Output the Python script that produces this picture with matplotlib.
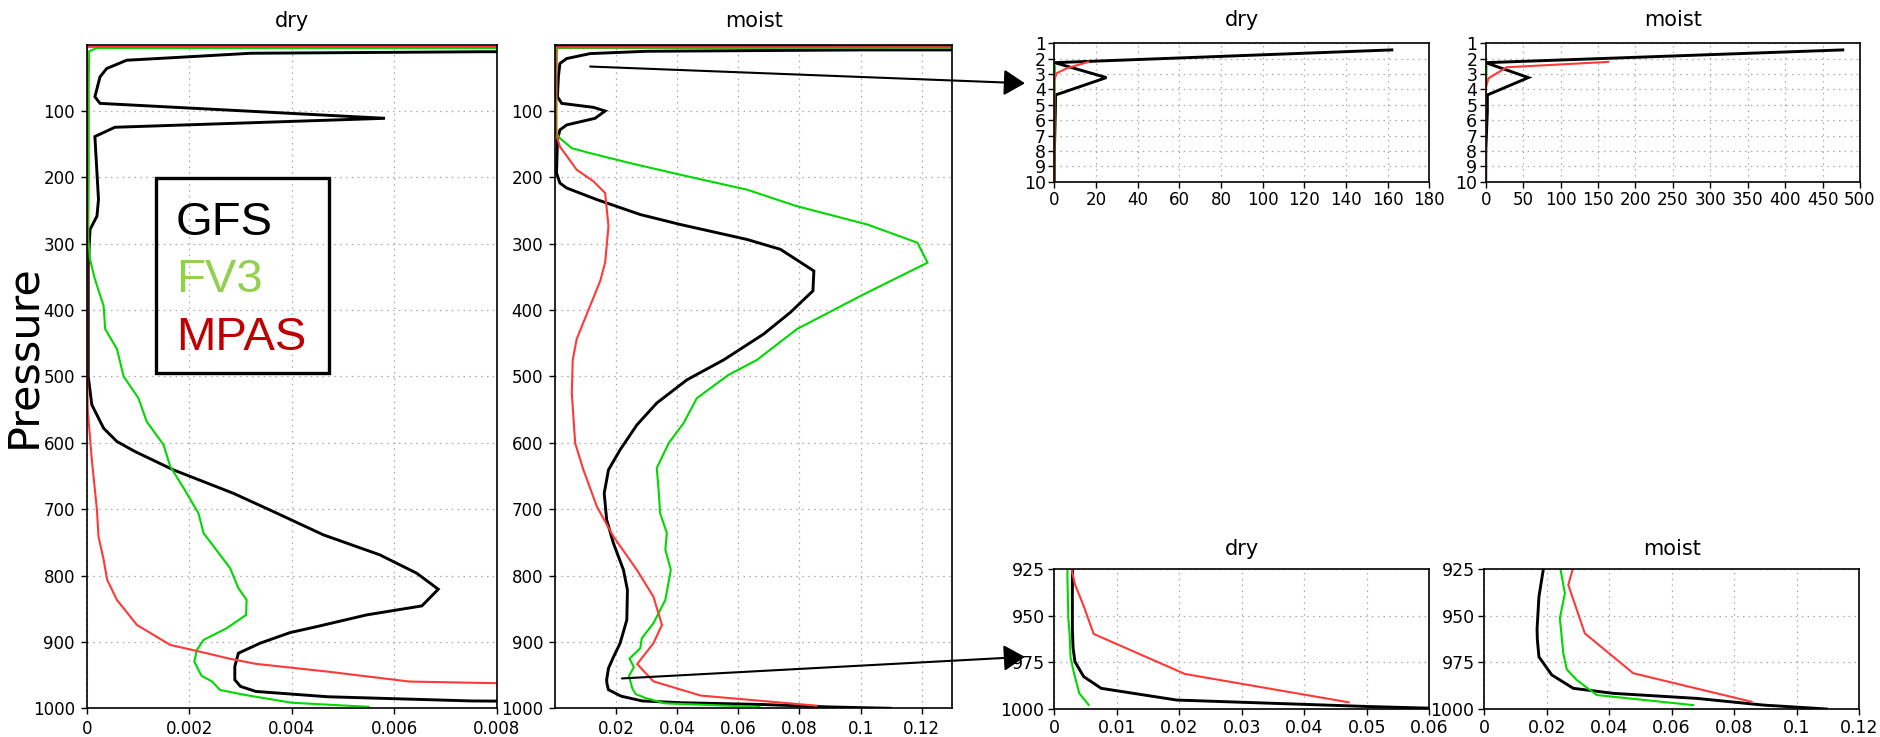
import matplotlib
matplotlib.use("Agg")
import matplotlib.pyplot as plt
from matplotlib.patches import ConnectionPatch, Rectangle

# ---------------- data (pressure in hPa, values) ----------------
gfs_dry_p = [1.43, 2.26, 3.23, 4.36, 5.45, 8, 10.7, 13, 18.7, 23.5, 36, 48.5, 78.5, 88.5, 111, 124.5,
             138.5, 233.5, 258.5, 278.5, 333, 500, 542.7, 578, 598, 613, 640.7, 676, 703.5, 738.7,
             768.8, 796.5, 820.6, 845.7, 859.3, 876.9, 885.9, 902, 917, 937, 957, 967, 974.6, 982.6,
             988.9, 995.2, 998.7, 1000]
gfs_dry_v = [162, 0.2, 25, 0.6, 0.5, 0.05, 0.0077, 0.0032, 0.0019, 0.00078, 0.00039, 0.00026, 0.00016,
             0.00026, 0.00582, 0.00055, 0.00016, 0.00023, 0.0002, 0.000065, 0.00003, 0.00003, 0.0001,
             0.00033, 0.00059, 0.00094, 0.00169, 0.00286, 0.00364, 0.00462, 0.00572, 0.00644, 0.00686,
             0.00654, 0.00546, 0.00449, 0.00397, 0.00338, 0.00296, 0.00289, 0.00289, 0.003, 0.0033,
             0.0047, 0.0075, 0.0196, 0.0505, 0.065]

fv3_dry_p = [2.5, 5, 10, 50, 100, 200, 290, 323.5, 353.5, 393.5, 428.5, 458.5, 500, 532.7, 567.8, 603,
             635.7, 668, 706, 736, 789, 819, 836.7, 859.3, 879.4, 897, 912, 929.6, 951, 959.8, 972.4,
             980, 991.6, 997.8]
fv3_dry_v = [0.3, 0.0002, 0.00005, 0.00004, 0.00004, 0.00004, 0.00003, 0.000065, 0.00016, 0.00033,
             0.00036, 0.00059, 0.00072, 0.00101, 0.00117, 0.0015, 0.00163, 0.00189, 0.00218, 0.00228,
             0.0028, 0.00296, 0.00312, 0.00311, 0.00273, 0.00228, 0.00215, 0.0021, 0.00224, 0.00245,
             0.0026, 0.0031, 0.0040, 0.0055]

mpas_dry_p = [2.21, 2.63, 2.95, 3.4, 10, 100, 300, 500, 550, 625.6, 701, 741, 776, 806.5, 836.7, 874.4,
              904.5, 917, 925, 933, 944.7, 959.7, 981.2, 996.4]
mpas_dry_v = [16.3, 5.9, 1.1, 0.0, 0.00001, 0.00001, 0.00001, 0.00001, 0.00002, 0.0001, 0.0002, 0.00023,
              0.00033, 0.0004, 0.00059, 0.00098, 0.00163, 0.00234, 0.00277, 0.0033, 0.0047, 0.0063,
              0.0209, 0.0471]

gfs_moist_p = [1.43, 2.26, 3.23, 4.36, 5.45, 8, 10, 13.5, 21, 28.5, 48.5, 78.5, 88.5, 94.5, 100, 111,
               121, 128.5, 143.5, 193.5, 208.5, 216, 233.5, 256, 271, 293.5, 308.5, 341, 371, 403.5,
               436, 475, 505, 540, 573, 610.5, 640.7, 676, 716, 751, 791.5, 821.6, 866.8, 902, 925,
               939.7, 957, 963, 972, 981.7, 988.9, 991.6, 994.3, 997.9, 1000]
gfs_moist_v = [477, 0.0, 57, 2.2, 2.2, 0.1, 0.03, 0.0115, 0.0038, 0.0016, 0.0011, 0.0008, 0.0022, 0.0126,
               0.0164, 0.0131, 0.0038, 0.0016, 0.0008, 0.0005, 0.0016, 0.0038, 0.0137, 0.0279, 0.041,
               0.0628, 0.0738, 0.0847, 0.0844, 0.077, 0.0683, 0.0552, 0.0432, 0.0333, 0.0268, 0.0213,
               0.0175, 0.0161, 0.0169, 0.0191, 0.0224, 0.0237, 0.0235, 0.0213, 0.0189, 0.0175, 0.0169,
               0.017, 0.0175, 0.0216, 0.0285, 0.0413, 0.068, 0.0894, 0.1096]

fv3_moist_p = [2.5, 5, 10, 50, 100, 133.5, 141, 156, 163.5, 178.5, 196, 218.5, 243.5, 271, 298.5, 328.5,
               376, 428.5, 475, 497.5, 532.7, 570, 600.5, 638, 671, 706, 736, 761, 791.5, 836.7, 871.9,
               894.5, 909.5, 925, 937.9, 951.3, 970.1, 978.7, 984.4, 992.5, 997.9]
fv3_moist_v = [1.0, 0.0008, 0.0006, 0.0005, 0.0005, 0.0005, 0.0016, 0.0055, 0.0115, 0.0246, 0.041,
               0.0628, 0.0792, 0.1022, 0.1186, 0.1219, 0.1011, 0.0792, 0.0661, 0.0568, 0.0464, 0.0421,
               0.0372, 0.0333, 0.0339, 0.0344, 0.0366, 0.0361, 0.0379, 0.0361, 0.0322, 0.0284, 0.0279,
               0.0244, 0.0258, 0.0242, 0.0253, 0.0264, 0.0296, 0.036, 0.0669]

mpas_moist_p = [2.21, 2.56, 3.28, 3.93, 10, 100, 133.5, 153.5, 188.5, 206, 223.5, 273.5, 328.5, 356,
                443.5, 475, 525, 600.5, 640.7, 696, 741, 791.5, 831.7, 874.4, 902, 925, 933.4, 959.4,
                980.8, 996.1]
mpas_moist_v = [163.8, 28, 3.6, 0.0, 0.0004, 0.0003, 0.0003, 0.0016, 0.0071, 0.0126, 0.0164, 0.0175,
                0.0164, 0.0148, 0.0071, 0.0058, 0.0055, 0.0066, 0.0093, 0.0137, 0.0191, 0.0268, 0.0322,
                0.035, 0.0322, 0.0283, 0.0269, 0.0322, 0.0477, 0.0856]

models = ["GFS", "FV3", "MPAS"]
legend_colors = ["#000000", "#92D050", "#C00000"]

main_yticks = [100, 200, 300, 400, 500, 600, 700, 800, 900, 1000]
dry_xticks = [0, 0.002, 0.004, 0.006, 0.008]
dry_xlabels = ["0", "0.002", "0.004", "0.006", "0.008"]
moist_xticks = [0.02, 0.04, 0.06, 0.08, 0.1, 0.12]
moist_xlabels = ["0.02", "0.04", "0.06", "0.08", "0.1", "0.12"]
top_yticks = [1, 2, 3, 4, 5, 6, 7, 8, 9, 10]
top_dry_xticks = [0, 20, 40, 60, 80, 100, 120, 140, 160, 180]
top_moist_xticks = [0, 50, 100, 150, 200, 250, 300, 350, 400, 450, 500]
bot_yticks = [925, 950, 975, 1000]
bot_dry_xticks = [0, 0.01, 0.02, 0.03, 0.04, 0.05, 0.06]
bot_dry_xlabels = ["0", "0.01", "0.02", "0.03", "0.04", "0.05", "0.06"]
bot_moist_xticks = [0, 0.02, 0.04, 0.06, 0.08, 0.1, 0.12]
bot_moist_xlabels = ["0", "0.02", "0.04", "0.06", "0.08", "0.1", "0.12"]

# ---------------- figure ----------------
W, H = 1881, 737
fig = plt.figure(figsize=(W / 100, H / 100), dpi=100)
plt.rcParams['font.family'] = ['DejaVu Sans']

line_colors = {"GFS": "#000000", "FV3": "#00d800", "MPAS": "#ff3838"}
line_widths = {"GFS": 2.1, "FV3": 1.5, "MPAS": 1.5}

dry = {"GFS": (gfs_dry_p, gfs_dry_v), "FV3": (fv3_dry_p, fv3_dry_v), "MPAS": (mpas_dry_p, mpas_dry_v)}
moist = {"GFS": (gfs_moist_p, gfs_moist_v), "FV3": (fv3_moist_p, fv3_moist_v),
         "MPAS": (mpas_moist_p, mpas_moist_v)}


def px_axes(x0, x1, y0, y1):
    return fig.add_axes([x0 / W, 1 - y1 / H, (x1 - x0) / W, (y1 - y0) / H])


def style(ax, title, fs_tick=12, title_pad=11, tick_pad=4.5):
    ax.set_title(title, fontsize=15, pad=title_pad)
    for s in ax.spines.values():
        s.set_linewidth(1.2)
    ax.tick_params(direction="out", length=4, width=1, labelsize=fs_tick, pad=tick_pad)
    ax.grid(True, color="#a8a8a8", linestyle=(0, (1.2, 3.5)), linewidth=0.9)
    ax.set_axisbelow(True)


def draw(ax, data):
    for m in models:
        p, v = data[m]
        ax.plot(v, p, color=line_colors[m], lw=line_widths[m], solid_joinstyle="miter")


# main dry
ax1 = px_axes(86.7, 496.7, 45.3, 708.3)
draw(ax1, dry)
ax1.set_xlim(0, 0.008)
ax1.set_ylim(1000, 1)
ax1.set_yticks(main_yticks)
ax1.set_xticks(dry_xticks)
ax1.set_xticklabels(dry_xlabels)
style(ax1, "dry", title_pad=13)

# main moist
ax2 = px_axes(555, 952.3, 45.3, 708.3)
draw(ax2, moist)
ax2.set_xlim(0, 0.13)
ax2.set_ylim(1000, 1)
ax2.set_yticks(main_yticks)
ax2.set_xticks(moist_xticks)
ax2.set_xticklabels(moist_xlabels)
style(ax2, "moist", title_pad=13)

# top right dry
ax3 = px_axes(1054.3, 1429.3, 43.3, 181.7)
draw(ax3, dry)
ax3.set_xlim(0, 180)
ax3.set_ylim(10, 1)
ax3.set_yticks(top_yticks)
ax3.set_xticks(top_dry_xticks)
style(ax3, "dry", fs_tick=12, title_pad=12.5, tick_pad=3)
ax3.tick_params(axis="y", labelsize=12.5, pad=2)

# top right moist
ax4 = px_axes(1485.7, 1860, 43.3, 181.7)
draw(ax4, moist)
ax4.set_xlim(0, 500)
ax4.set_ylim(10, 1)
ax4.set_yticks(top_yticks)
ax4.set_xticks(top_moist_xticks)
style(ax4, "moist", fs_tick=12, title_pad=12.5, tick_pad=3)
ax4.tick_params(axis="y", labelsize=12.5, pad=2)

# bottom right dry
ax5 = px_axes(1054.3, 1429.3, 569.3, 709)
draw(ax5, dry)
ax5.set_xlim(0, 0.06)
ax5.set_ylim(1000, 925)
ax5.set_yticks(bot_yticks)
ax5.set_xticks(bot_dry_xticks)
ax5.set_xticklabels(bot_dry_xlabels)
style(ax5, "dry", fs_tick=12.5, title_pad=10, tick_pad=3)

# bottom right moist
ax6 = px_axes(1484.3, 1859, 569.3, 709)
draw(ax6, moist)
ax6.set_xlim(0, 0.12)
ax6.set_ylim(1000, 925)
ax6.set_yticks(bot_yticks)
ax6.set_xticks(bot_moist_xticks)
ax6.set_xticklabels(bot_moist_xlabels)
style(ax6, "moist", fs_tick=12.5, title_pad=10, tick_pad=3)

# y label
fig.text(23.5 / W, 1 - 356 / H, "Pressure", rotation=90, ha="center", va="center",
         fontsize=31, family=["DejaVu Sans"])

# legend box
fig.add_artist(Rectangle((155.7 / W, 1 - 373.3 / H), (329 - 155.7) / W, (373.3 - 178.3) / H,
                         transform=fig.transFigure, fill=False, edgecolor="black", linewidth=2.4))
for i, (name, col) in enumerate(zip(models, legend_colors)):
    fig.text(176 / W, 1 - (235 + 57.5 * i) / H, name, color=col, fontsize=34,
             family=["Liberation Sans", "DejaVu Sans"], ha="left", va="baseline")

# arrows
arrow_kw = dict(arrowstyle="-|>,head_length=0.65,head_width=0.4", mutation_scale=20,
                color="black", lw=1.5, shrinkA=0, shrinkB=0)
con1 = ConnectionPatch(xyA=(0.0115, 33), coordsA="data", axesA=ax2,
                       xyB=(-14.1, 3.6), coordsB="data", axesB=ax3, **arrow_kw)
con1.set_annotation_clip(False)
fig.add_artist(con1)
con2 = ConnectionPatch(xyA=(0.0219, 955), coordsA="data", axesA=ax2,
                       xyB=(-0.0047, 972), coordsB="data", axesB=ax5, **arrow_kw)
con2.set_annotation_clip(False)
fig.add_artist(con2)

fig.savefig("out.png", dpi=100)
